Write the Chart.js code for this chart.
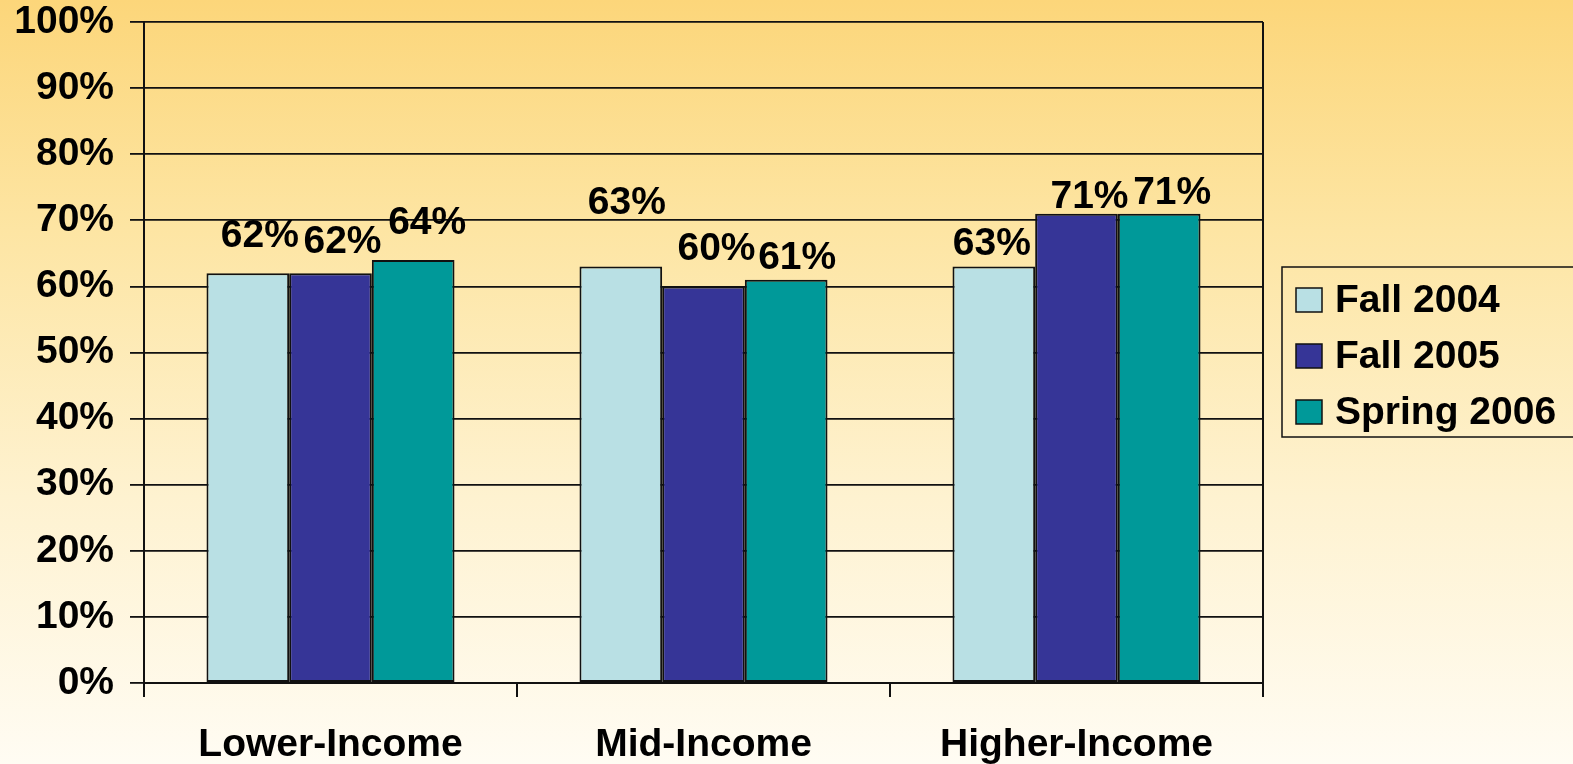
<!DOCTYPE html>
<html lang="en">
<head>
  <meta charset="UTF-8">
  <title>Income Groups</title>
  <script src="https://cdn.jsdelivr.net/npm/chart.js"></script>
  <style>
    html, body { margin: 0; padding: 0; }
    body {
      width: 1573px; height: 764px; overflow: hidden;
      background: linear-gradient(to bottom, #fcd67a 0%, #fde5a3 30%, #fef2d0 65%, #fffcf3 100%);
    }
    canvas { display: block; }
  </style>
</head>
<body>
  <canvas id="incomeChart" width="1573" height="764"></canvas>

  <script>
  const categories = ["Lower-Income", "Mid-Income", "Higher-Income"];
  const seriesNames = ["Fall 2004", "Fall 2005", "Spring 2006"];
  const fall2004 = [62, 63, 63];
  const fall2005 = [62, 60, 71];
  const spring2006 = [64, 61, 71];
  const colors = ["#b9e0e4", "#363597", "#009999"];

  // label nudges [dx, gap above bar] per series, per category
  const labelNudge = [
    [[12, 26], [6, 53], [-2, 12]],
    [[12, 20], [13, 26], [13, 6]],
    [[14, 26], [11, 11], [13, 10]]
  ];

  const FONT = "'Liberation Sans', Arial, sans-serif";

  const barLabels = {
    id: 'barLabels',
    afterDatasetsDraw(chart) {
      const ctx = chart.ctx;
      ctx.save();
      ctx.font = "bold 39px " + FONT;
      ctx.fillStyle = "#000";
      ctx.textAlign = "center";
      ctx.textBaseline = "alphabetic";
      chart.data.datasets.forEach((ds, i) => {
        chart.getDatasetMeta(i).data.forEach((bar, j) => {
          const [dx, gap] = labelNudge[i][j];
          ctx.fillText(ds.data[j] + "%", bar.x + dx, bar.y - gap);
        });
      });
      ctx.restore();
    }
  };

  const frameAndLegend = {
    id: 'frameAndLegend',
    afterDraw(chart) {
      const ctx = chart.ctx;
      const a = chart.chartArea;
      ctx.save();
      ctx.strokeStyle = "#111";
      ctx.lineWidth = 2;
      ctx.beginPath();
      ctx.moveTo(a.right, a.top);
      ctx.lineTo(a.right, a.bottom + 14);
      ctx.stroke();

      // legend box
      const lx = 1282, ly = 267, lh = 170;
      ctx.lineWidth = 1.5;
      ctx.strokeRect(lx, ly, 400, lh);
      ctx.font = "bold 39px " + FONT;
      ctx.textBaseline = "middle";
      ctx.textAlign = "left";
      chart.data.datasets.forEach((ds, i) => {
        const cy = 300 + i * 56;
        ctx.fillStyle = ds.backgroundColor;
        ctx.fillRect(1296, cy - 12, 26, 24);
        ctx.lineWidth = 1.5;
        ctx.strokeRect(1296, cy - 12, 26, 24);
        ctx.fillStyle = "#000";
        ctx.fillText(ds.label, 1335, cy + 1);
      });
      ctx.restore();
    }
  };

  const seriesValues = [fall2004, fall2005, spring2006];

  new Chart(document.getElementById("incomeChart"), {
    type: 'bar',
    data: {
      labels: categories,
      datasets: seriesNames.map((name, i) => ({
        label: name,
        data: seriesValues[i],
        backgroundColor: colors[i],
        borderColor: "#111",
        borderWidth: 2,
        borderSkipped: false,
        barPercentage: 1,
        categoryPercentage: 0.665
      }))
    },
    options: {
      responsive: false,
      animation: false,
      layout: { padding: { top: 22, right: 310, left: 0, bottom: 0 } },
      plugins: { legend: { display: false }, tooltip: { enabled: false } },
      scales: {
        x: {
          grid: { display: true, drawOnChartArea: false, color: "#111", lineWidth: 2, tickLength: 14, offset: true },
          border: { color: "#111", width: 2 },
          ticks: { color: "#000", font: { family: FONT, size: 39, weight: 'bold', lineHeight: 1 }, padding: 29 },
          afterFit: s => { s.height = 81; s.paddingLeft = 0; s.paddingRight = 0; }
        },
        y: {
          min: 0,
          max: 100,
          ticks: {
            stepSize: 10,
            color: "#000",
            padding: 16,
            font: { family: FONT, size: 39, weight: 'bold', lineHeight: 1 },
            callback: v => v + "%"
          },
          grid: { color: "#111", lineWidth: 1.8, tickLength: 14 },
          border: { color: "#111", width: 2 },
          afterFit: s => { s.width = 144; s.paddingTop = 0; s.paddingBottom = 0; }
        }
      }
    },
    plugins: [barLabels, frameAndLegend]
  });
  </script>
</body>
</html>
